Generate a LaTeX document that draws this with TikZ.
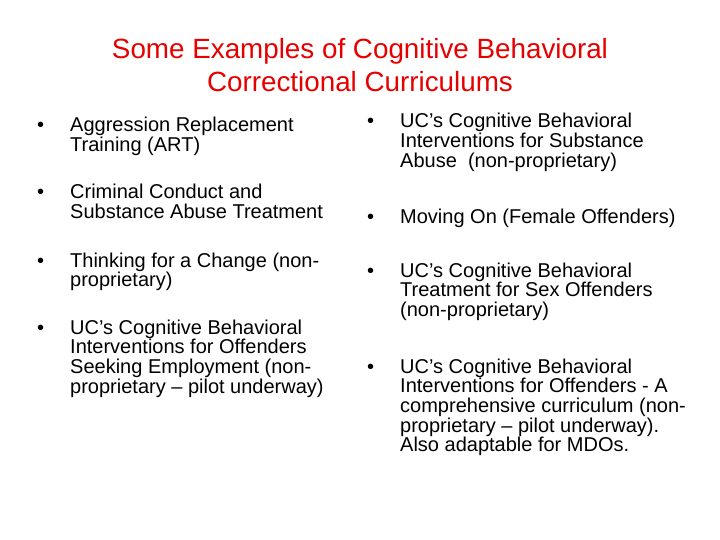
\documentclass[tikz,border=0pt]{standalone}
\usepackage{fontspec}
\setmainfont{Liberation Sans}
\definecolor{titlered}{RGB}{230,0,0}
\newcommand{\itm}[1]{\parbox[t]{320pt}{\raggedright #1}}
\begin{document}
\begin{tikzpicture}[x=1pt,y=-1pt,
  item/.style={anchor=base west,align=left,inner sep=0pt,font=\fontsize{20}{19.7}\selectfont},
  dot/.style={anchor=base west,inner sep=0pt,font=\fontsize{20}{19.7}\selectfont},
  ttl/.style={anchor=base,inner sep=0pt,text=titlered,font=\fontsize{27.8}{33}\selectfont}]
\useasboundingbox (0,0) rectangle (720,540);
\node[ttl] (t1) at (360,59) {Some Examples of Cognitive Behavioral};
\node[ttl] (t2) at (360,92) {Correctional Curriculums};
\node[dot] (b1) at (37,132) {•};
\node[item] (l1) at (70,132) {\itm{Aggression Replacement\\Training (ART)}};
\node[dot] (b2) at (37,199) {•};
\node[item] (l2) at (70,199) {\itm{Criminal Conduct and\\Substance Abuse Treatment}};
\node[dot] (b3) at (37,267) {•};
\node[item] (l3) at (70,267) {\itm{Thinking for a Change (non-\\proprietary)}};
\node[dot] (b4) at (37,334) {•};
\node[item] (l4) at (70,334) {\itm{UC's Cognitive Behavioral\\Interventions for Offenders\\Seeking Employment (non-\\proprietary -- pilot underway)}};
\node[dot] (r1b) at (367,128) {•};
\node[item] (r1) at (400,128) {\itm{UC’s Cognitive Behavioral\\Interventions for Substance\\Abuse\ \ (non-proprietary)}};
\node[dot] (r2b) at (367,224) {•};
\node[item] (r2) at (400,224) {\itm{Moving On (Female Offenders)}};
\node[dot] (r3b) at (367,277) {•};
\node[item] (r3) at (400,277) {\itm{UC’s Cognitive Behavioral\\Treatment for Sex Offenders\\(non-proprietary)}};
\node[dot] (r4b) at (367,373) {•};
\node[item] (r4) at (400,373) {\itm{UC's Cognitive Behavioral\\Interventions for Offenders - A\\comprehensive curriculum (non-\\proprietary -- pilot underway).\\Also adaptable for MDOs.}};
\end{tikzpicture}
\end{document}
